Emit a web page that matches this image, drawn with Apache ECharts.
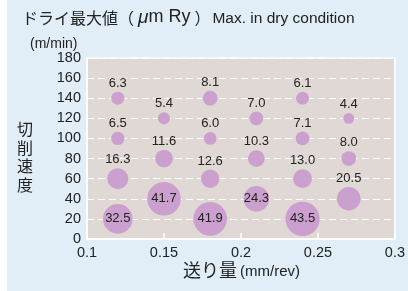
<!DOCTYPE html>
<html><head><meta charset="utf-8">
<script src="https://cdn.jsdelivr.net/npm/echarts@6/dist/echarts.min.js"></script>
<style>html,body{margin:0;padding:0;background:#fff}#c{width:408px;height:291px}</style>
</head><body><div id="c"></div>
<script>
var feed = [0.12,0.12,0.12,0.12, 0.15,0.15,0.15, 0.18,0.18,0.18,0.18, 0.21,0.21,0.21, 0.24,0.24,0.24,0.24, 0.27,0.27,0.27];
var speed = [140,100,60,20, 120,80,40, 140,100,60,20, 120,80,40, 140,100,60,20, 120,80,40];
var ry = [6.3,6.5,16.3,32.5, 5.4,11.6,41.7, 8.1,6.0,12.6,41.9, 7.0,10.3,24.3, 6.1,7.1,13.0,43.5, 4.4,8.0,20.5];
var xTicks = {min:0.1, max:0.3, step:0.05};
var yTicks = {min:0, max:180, step:20};

var LAT = '"Liberation Sans", Arial, sans-serif';
var CJK = '"Noto Sans CJK JP", sans-serif';
var data = feed.map(function(f,i){
  var d = [f, speed[i], ry[i]];
  return ry[i] >= 24 ? {value:d, label:{position:'inside'}} : {value:d};
});

var chart = echarts.init(document.getElementById('c'), null, {renderer:'canvas'});
chart.setOption({
  animation:false,
  backgroundColor:'#ffffff',
  grid:{left:87, right:4, top:58, bottom:52, show:true, backgroundColor:'#dfd8d5', borderColor:'#ffffff', borderWidth:1.5},
  xAxis:{type:'value', min:xTicks.min, max:xTicks.max, interval:xTicks.step,
    axisLine:{show:true, lineStyle:{color:'#ffffff', width:1.5}},
    axisTick:{show:true, inside:true, length:6, lineStyle:{color:'#ffffff', width:1.5}},
    axisLabel:{color:'#222', fontSize:14.5, fontFamily:LAT, margin:6, formatter:function(v){return String(+v.toFixed(2));}},
    splitLine:{show:false}},
  yAxis:{type:'value', min:yTicks.min, max:yTicks.max, interval:yTicks.step,
    axisLine:{show:true, lineStyle:{color:'#ffffff', width:1.5}},
    axisTick:{show:false},
    axisLabel:{color:'#222', fontSize:14.5, fontFamily:LAT, margin:6},
    splitLine:{show:true, lineStyle:{color:'#ffffff', width:1, type:[7,4]}}},
  series:[{type:'scatter', data:data,
    symbolSize:function(d){return 5.2*Math.sqrt(d[2]);},
    itemStyle:{color:'#cca0ce', opacity:1},
    label:{show:true, fontSize:13, fontFamily:LAT, color:'#222',
      formatter:function(p){return p.value[2].toFixed(1);},
      position:'top', distance:2}
  }],
  graphic:[
    {type:'rect', z:-10, shape:{x:7, y:0, width:401, height:291}, style:{fill:'#e1eef7'}},
    {type:'text', left:22, top:8, style:{text:'{a|ドライ最大値（}{mu|μ}{c|m Ry}{a|）}{b|Max. in dry condition}',
      rich:{a:{fontSize:16, fontFamily:CJK, fill:'#222'}, mu:{fontSize:19, fontFamily:LAT, fontStyle:'italic', fill:'#222', padding:[0,0,0,4]},
            c:{fontSize:18, fontFamily:LAT, fill:'#222', padding:[0,4,0,0]}, b:{fontSize:15.5, fontFamily:LAT, fill:'#222', padding:[3,0,0,2]}}}},
    {type:'text', left:30, top:37, style:{text:'(m/min)', fontSize:14, fontFamily:LAT, fill:'#222'}},
    {type:'text', left:17, top:120, style:{text:'切\n削\n速\n度', fontSize:16, lineHeight:18.5, fontFamily:CJK, fill:'#222'}},
    {type:'text', left:183, top:261, style:{text:'{a|送り量}{b|(mm/rev)}',
      rich:{a:{fontSize:18, fontFamily:CJK, fill:'#222'}, b:{fontSize:15, fontFamily:LAT, fill:'#222', padding:[3,0,0,3]}}}}
  ]
});
</script></body></html>
